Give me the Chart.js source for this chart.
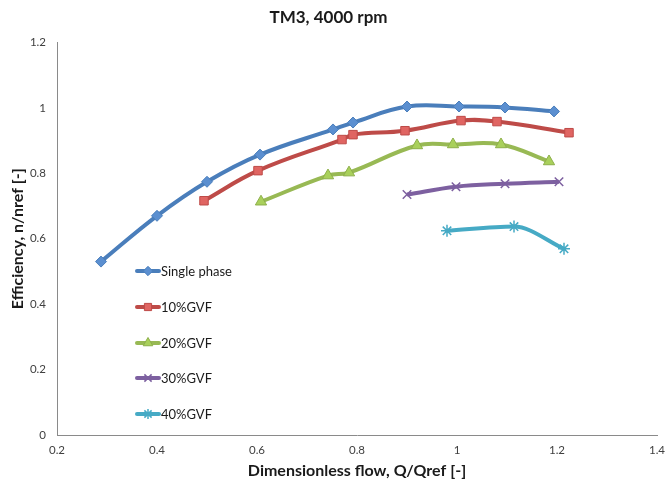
<!DOCTYPE html>
<html><head><meta charset="utf-8">
<script src="https://cdn.jsdelivr.net/npm/chart.js@4/dist/chart.umd.min.js"></script>
<style>html,body{margin:0;padding:0;background:#fff}#wrap{width:667px;height:482px}</style>
</head><body><div id="wrap"><canvas id="c" width="667" height="482"></canvas></div>
<script>
// ---- data ----
const seriesNames = ['Single phase', '10%GVF', '20%GVF', '30%GVF', '40%GVF'];
const singleX = [0.288, 0.4, 0.5, 0.606, 0.752, 0.792, 0.9, 1.004, 1.096, 1.194];
const singleY = [0.53, 0.67, 0.774, 0.857, 0.934, 0.955, 1.004, 1.004, 1.001, 0.989];
const gvf10X = [0.494, 0.602, 0.77, 0.792, 0.896, 1.008, 1.08, 1.224];
const gvf10Y = [0.716, 0.808, 0.903, 0.918, 0.930, 0.961, 0.958, 0.924];
const gvf20X = [0.608, 0.742, 0.784, 0.92, 0.992, 1.088, 1.184];
const gvf20Y = [0.713, 0.793, 0.802, 0.885, 0.888, 0.888, 0.836];
const gvf30X = [0.9, 0.998, 1.096, 1.204];
const gvf30Y = [0.735, 0.759, 0.768, 0.774];
const gvf40X = [0.98, 1.114, 1.214];
const gvf40Y = [0.624, 0.637, 0.569];
const xTicks = [0.2, 0.4, 0.6, 0.8, 1, 1.2, 1.4];
const yTicks = [0, 0.2, 0.4, 0.6, 0.8, 1, 1.2];

const FONT = 'Lato, "Open Sans", sans-serif';
const pts = (xs, ys) => xs.map((x, i) => ({x: x, y: ys[i]}));

const styles = [
  {line: '#4A7EBB', fill: '#5B8FD0', border: '#4A7EBB', shape: 'rectRot', r: 5.5, bw: 1, mono: false},
  {line: '#BE4B48', fill: '#E06562', border: '#BE4B48', shape: 'rect', r: 6, bw: 1, mono: false},
  {line: '#98B954', fill: '#A9D05B', border: '#8DAF4A', shape: 'triangle', r: 6.5, bw: 1, mono: false},
  {line: '#7D60A0', fill: '#7D60A0', border: '#7D60A0', shape: 'crossRot', r: 6, bw: 1.5, mono: false},
  {line: '#46AAC5', fill: '#46AAC5', border: '#46AAC5', shape: 'star', r: 6, bw: 1.5, mono: true}
];
const allData = [pts(singleX, singleY), pts(gvf10X, gvf10Y), pts(gvf20X, gvf20Y), pts(gvf30X, gvf30Y), pts(gvf40X, gvf40Y)];

const datasets = allData.map((d, i) => ({
  label: seriesNames[i],
  data: d,
  showLine: true,
  borderColor: styles[i].line,
  borderWidth: 4,
  tension: 0.4,
  cubicInterpolationMode: styles[i].mono ? 'monotone' : 'default',
  pointStyle: styles[i].shape,
  pointRadius: styles[i].r,
  pointBackgroundColor: styles[i].fill,
  pointBorderColor: styles[i].border,
  pointBorderWidth: styles[i].bw,
  order: 5 - i
}));

const legendPlugin = {
  id: 'customLegend',
  afterDraw(chart) {
    const ctx = chart.ctx;
    const ys = [271, 307, 343, 378, 414];
    ctx.save();
    ys.forEach((y, i) => {
      const s = styles[i];
      ctx.strokeStyle = s.line;
      ctx.lineWidth = 4;
      ctx.lineCap = 'round';
      ctx.beginPath();
      ctx.moveTo(137, y);
      ctx.lineTo(159, y);
      ctx.stroke();
      ctx.lineCap = 'butt';
      ctx.fillStyle = s.fill;
      ctx.strokeStyle = s.border;
      ctx.lineWidth = s.bw;
      Chart.helpers.drawPoint(ctx, {pointStyle: s.shape, radius: s.r * 0.85, borderWidth: s.bw, rotation: 0}, 148, y);
      ctx.fillStyle = '#1a1a1a';
      ctx.font = '13px ' + FONT;
      ctx.textBaseline = 'middle';
      ctx.textAlign = 'left';
      ctx.fillText(seriesNames[i], 161, y + 1);
    });
    ctx.restore();
  }
};

new Chart(document.getElementById('c'), {
  type: 'scatter',
  data: {datasets: datasets},
  plugins: [legendPlugin],
  options: {
    responsive: false,
    animation: false,
    devicePixelRatio: 1,
    layout: {padding: {left: 0, right: 10, top: 0, bottom: 0}},
    plugins: {
      legend: {display: false},
      tooltip: {enabled: false},
      title: {
        display: true,
        text: 'TM3, 4000 rpm',
        color: '#1a1a1a',
        font: {family: FONT, size: 17, weight: 'bold'},
        padding: {top: 7, bottom: 15}
      }
    },
    scales: {
      x: {
        type: 'linear', min: 0.2, max: 1.4,
        afterBuildTicks: s => { s.ticks = xTicks.map(v => ({value: v})); },
        afterFit: s => { s.height = 47; s.paddingLeft = 0; s.paddingRight = 0; },
        grid: {color: 'rgba(0,0,0,0)', drawTicks: false},
        border: {display: true, color: '#8a8a8a', width: 1},
        ticks: {color: '#404040', font: {family: FONT, size: 11.5}, padding: 8, maxRotation: 0,
          callback: v => String(Number(v.toFixed(1)))},
        title: {display: true, text: 'Dimensionless flow, Q/Qref [-]', color: '#1a1a1a',
          font: {family: FONT, size: 16, weight: 'bold'}, padding: {top: 2, bottom: 2}}
      },
      y: {
        type: 'linear', min: 0, max: 1.2,
        afterBuildTicks: s => { s.ticks = yTicks.map(v => ({value: v})); },
        afterFit: s => { s.width = 57; s.paddingTop = 0; s.paddingBottom = 0; },
        grid: {color: 'rgba(0,0,0,0)', drawTicks: false},
        border: {display: true, color: '#8a8a8a', width: 1},
        ticks: {color: '#404040', font: {family: FONT, size: 11.5}, padding: 11,
          callback: v => String(Number(v.toFixed(1)))},
        title: {display: true, text: 'Efficiency, n/nref [-]', color: '#1a1a1a',
          font: {family: FONT, size: 16, weight: 'bold'}, padding: {top: 8, bottom: 8}}
      }
    }
  }
});
</script></body></html>
